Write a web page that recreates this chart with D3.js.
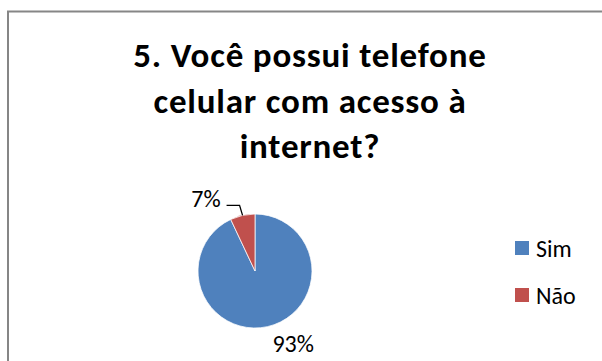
<!DOCTYPE html>
<html>
<head>
<meta charset="utf-8">
<script src="https://cdn.jsdelivr.net/npm/d3@7"></script>
<style>
  body { margin: 0; background: #fff; }
  svg text { font-family: Calibri, Carlito, Lato, sans-serif; }
</style>
</head>
<body>
<div id="chart"></div>
<script>
var titleLines = ["5. Você possui telefone", "celular com acesso à", "internet?"];
var categories = ["Sim", "Não"];
var values = [93, 7];
var colors = ["#4F81BD", "#C0504D"];

var width = 602, height = 361;
var cx = 255, cy = 271, radius = 57;

var svg = d3.select('#chart')
    .append('svg')
    .attr('width', width)
    .attr('height', height);

// chart area border (runs off the right and bottom edge)
svg.append('rect')
    .attr('x', 8)
    .attr('y', 11.5)
    .attr('width', 640)
    .attr('height', 400)
    .attr('fill', '#fff')
    .attr('stroke', '#868686')
    .attr('stroke-width', 2);

svg.append('g')
    .selectAll('text')
    .data(titleLines)
    .enter()
    .append('text')
    .attr('x', 310)
    .attr('y', function(d, i) { return 67 + i * 45.5; })
    .attr('text-anchor', 'middle')
    .attr('font-size', 35)
    .attr('letter-spacing', 0.8)
    .attr('font-weight', 'bold')
    .attr('fill', '#000')
    .text(function(d) { return d; });

var dataset = categories.map(function(c, i) {
    return {label: c, count: values[i]};
});

var color = d3.scaleOrdinal().domain(categories).range(colors);

var pie = d3.pie()
    .value(function(d) { return d.count; })
    .sort(null);

var arc = d3.arc()
    .innerRadius(0)
    .outerRadius(radius);

var g = svg.append('g')
    .attr('transform', 'translate(' + cx + ',' + cy + ')');

var arcs = pie(dataset);

g.selectAll('path')
    .data(arcs)
    .enter()
    .append('path')
    .attr('d', arc)
    .attr('fill', function(d) { return color(d.data.label); })
    .attr('stroke', '#fff')
    .attr('stroke-width', 0.75);

var total = d3.sum(values);
function pct(d) { return Math.round(d.data.count / total * 100) + '%'; }
function edge(d, r) {
    var a = (d.startAngle + d.endAngle) / 2;
    return [Math.sin(a) * r, -Math.cos(a) * r];
}

// big slice label: below right of the pie
var big = arcs[0];
var pb = edge(big, radius);
g.append('text')
    .attr('x', pb[0] + 5)
    .attr('y', pb[1] + 25)
    .attr('font-size', 24)
    .attr('fill', '#000')
    .text(pct(big));

// small slice label with leader line
var small = arcs[1];
var ps = edge(small, radius);
g.append('path')
    .attr('d', 'M' + ps[0] + ',' + ps[1] + 'L' + (ps[0] - 3) + ',' + (ps[1] - 10) + 'L' + (ps[0] - 16) + ',' + (ps[1] - 10))
    .attr('fill', 'none')
    .attr('stroke', '#000')
    .attr('stroke-width', 1.3);
g.append('text')
    .attr('x', ps[0] - 22)
    .attr('y', ps[1] - 8)
    .attr('text-anchor', 'end')
    .attr('font-size', 24)
    .attr('fill', '#000')
    .text(pct(small));

// legend
var legend = svg.append('g')
    .selectAll('g')
    .data(categories)
    .enter()
    .append('g')
    .attr('transform', function(d, i) { return 'translate(515,' + (248 + i * 47) + ')'; });

legend.append('rect')
    .attr('x', 0)
    .attr('y', -7)
    .attr('width', 14)
    .attr('height', 14)
    .attr('fill', function(d) { return color(d); });

legend.append('text')
    .attr('x', 21)
    .attr('y', 9)
    .attr('font-size', 24)
    .attr('fill', '#000')
    .text(function(d) { return d; });
</script>
</body>
</html>
